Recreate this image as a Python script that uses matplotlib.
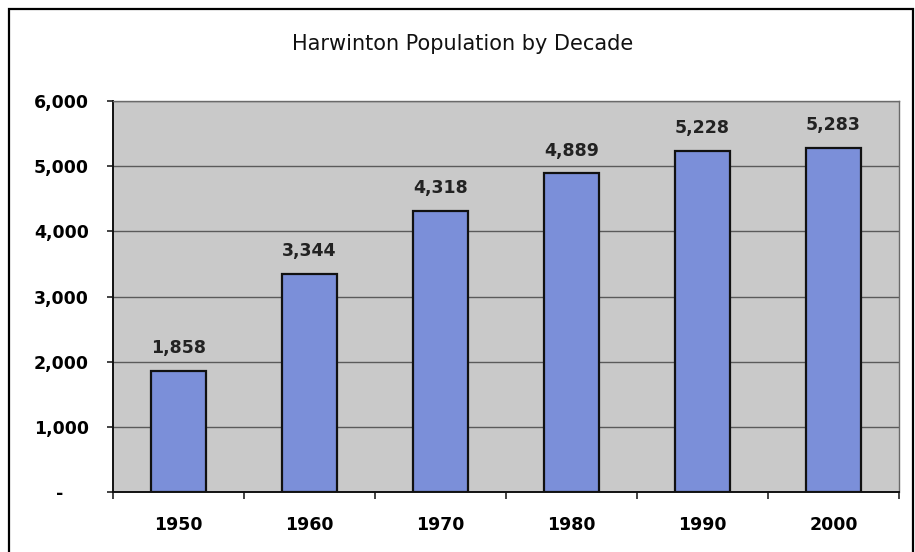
import matplotlib.pyplot as plt
import matplotlib.transforms as mtransforms
from matplotlib.patches import Rectangle
import numpy as np

plt.rcParams['font.family'] = ['DejaVu Sans']

decades = ['1950', '1960', '1970', '1980', '1990', '2000']
population = [1858, 3344, 4318, 4889, 5228, 5283]
yticks = [0, 1000, 2000, 3000, 4000, 5000, 6000]

fig = plt.figure(figsize=(9.15, 5.52), dpi=100)
ax = fig.add_axes([0.1235, 0.1087, 0.859, 0.7083])

# outer frame around the chart
fig.patches.append(Rectangle((0.0098, -0.05), 0.988, 1.034, transform=fig.transFigure,
                             fill=False, edgecolor='black', linewidth=1.6))

x = np.arange(len(decades))
ax.set_facecolor('#c9c9c9')
bars = ax.bar(x, population, width=0.42, color='#7b8fd9', edgecolor='#111111',
              linewidth=1.6, zorder=3)

for b, v in zip(bars, population):
    ax.annotate(f'{v:,}', (b.get_x() + b.get_width() / 2, v), xytext=(0, 10),
                textcoords='offset points', ha='center', va='bottom',
                fontsize=12.5, fontweight='bold', color='#222222')

ax.set_xlim(-0.5, len(decades) - 0.5)
ax.set_ylim(0, 6000)
ax.set_yticks(yticks)
ax.set_yticklabels(['-' if t == 0 else f'{t:,}' for t in yticks])
ax.yaxis.grid(True, color='#5a5a5a', linewidth=1.0, zorder=1)
ax.set_axisbelow(True)

# category boundaries carry the tick marks, labels sit in between
ax.set_xticks(np.arange(-0.5, len(decades), 1.0))
ax.set_xticklabels([])
ax.set_xticks(x, minor=True)
ax.set_xticklabels(decades, minor=True)
ax.tick_params(axis='x', which='minor', length=0, pad=17, labelsize=12.5)
ax.tick_params(axis='x', which='major', length=5, width=1.2, color='#222222')
ax.tick_params(axis='y', length=4.5, width=1.2, color='#222222', pad=13, labelsize=12.5)
for lab in ax.get_xticklabels(minor=True) + ax.get_yticklabels():
    lab.set_fontweight('bold')

# zero label sits further left, accounting style
zero = ax.get_yticklabels()[0]
zero.set_transform(zero.get_transform() + mtransforms.ScaledTranslation(-25 / 100, 0, fig.dpi_scale_trans))

for side in ['left', 'bottom']:
    ax.spines[side].set_color('#111111')
    ax.spines[side].set_linewidth(1.4)
for side in ['top', 'right']:
    ax.spines[side].set_color('#6a6a6a')
    ax.spines[side].set_linewidth(1.0)

fig.text(0.506, 0.92, 'Harwinton Population by Decade', ha='center', va='center',
         fontsize=15, color='#111111')

fig.savefig('out.png', dpi=100)
